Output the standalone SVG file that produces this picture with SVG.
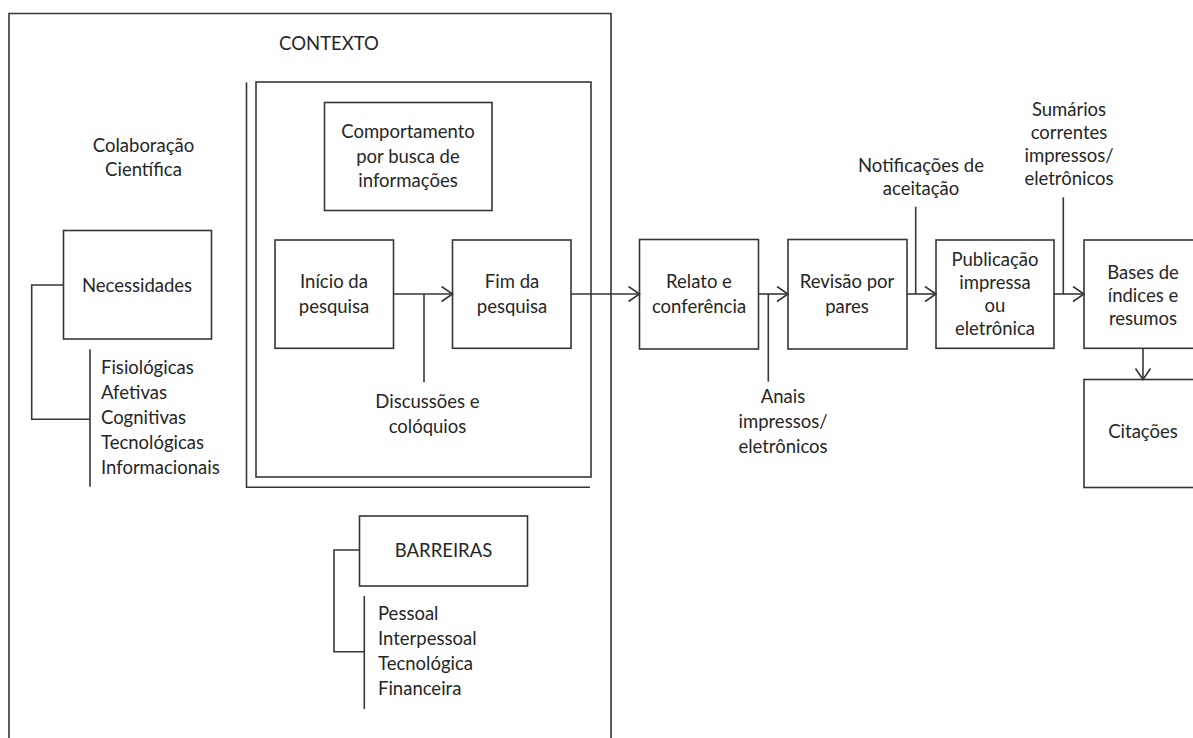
<svg xmlns="http://www.w3.org/2000/svg" width="1193" height="738" viewBox="0 0 1193 738">
  <style>
    .box { fill: #ffffff; stroke: #363636; stroke-width: 1.6; }
    .ln { fill: none; stroke: #363636; stroke-width: 1.6; }
    .arr { fill: none; stroke: #363636; stroke-width: 1.6; marker-end: url(#chev); }
    text { font-family: Lato, "Open Sans", "Liberation Sans", sans-serif; font-size: 18.5px; fill: #262626; }
    .c { text-anchor: middle; }
  </style>
  <defs>
    <marker id="chev" markerUnits="userSpaceOnUse" markerWidth="14" markerHeight="18" refX="12" refY="8" orient="auto">
      <path d="M1,0.5 L12,8 L1,15.5" fill="none" stroke="#363636" stroke-width="1.6"/>
    </marker>
  </defs>
  <rect width="1193" height="738" fill="#ffffff"/>

  <!-- context frame (open at the bottom edge) -->
  <g id="contexto">
    <path class="ln" d="M9,760 V13.5 H611 V760"/>
    <text class="c" x="329" y="50">CONTEXTO</text>
  </g>

  <g id="colaboracao">
    <text class="c" x="143.5" y="152">Colaboração</text>
    <text class="c" x="143.5" y="176">Científica</text>
  </g>

  <!-- research frame with shadow rule -->
  <g id="pesquisa-frame">
    <path class="ln" d="M246.5,82.5 V487.3 H590"/>
    <rect class="box" x="256" y="82" width="335" height="395" fill="none"/>
  </g>

  <g id="comportamento">
    <rect class="box" x="324.5" y="102.5" width="167.5" height="108"/>
    <text class="c" x="408" y="138">Comportamento</text>
    <text class="c" x="408" y="163">por busca de</text>
    <text class="c" x="408" y="187">informações</text>
  </g>

  <g id="necessidades">
    <rect class="box" x="63.5" y="230.5" width="148" height="108.5"/>
    <text class="c" x="137" y="291.5">Necessidades</text>
  </g>

  <g id="necessidades-lista">
    <path class="ln" d="M90,349.3 V486.7"/>
    <text x="101" y="374">Fisiológicas</text>
    <text x="101" y="399">Afetivas</text>
    <text x="101" y="424">Cognitivas</text>
    <text x="101" y="449">Tecnológicas</text>
    <text x="101" y="474">Informacionais</text>
  </g>

  <g id="inicio">
    <rect class="box" x="275" y="240" width="118.5" height="108.3"/>
    <text class="c" x="334" y="288">Início da</text>
    <text class="c" x="334" y="313">pesquisa</text>
  </g>

  <g id="fim">
    <rect class="box" x="452.5" y="240" width="118.5" height="108.3"/>
    <text class="c" x="512" y="288">Fim da</text>
    <text class="c" x="512" y="313">pesquisa</text>
  </g>

  <g id="discussoes">
    <text class="c" x="427.5" y="408">Discussões e</text>
    <text class="c" x="427.5" y="433">colóquios</text>
  </g>

  <g id="barreiras">
    <rect class="box" x="359.5" y="516" width="168" height="70"/>
    <text class="c" x="443.5" y="557">BARREIRAS</text>
  </g>

  <g id="barreiras-lista">
    <path class="ln" d="M364.3,596 V709"/>
    <text x="378" y="620">Pessoal</text>
    <text x="378" y="645">Interpessoal</text>
    <text x="378" y="670">Tecnológica</text>
    <text x="378" y="695">Financeira</text>
  </g>

  <g id="relato">
    <rect class="box" x="639.5" y="239.5" width="119" height="109.5"/>
    <text class="c" x="699" y="288">Relato e</text>
    <text class="c" x="699" y="313">conferência</text>
  </g>

  <g id="anais">
    <text class="c" x="783" y="403">Anais</text>
    <text class="c" x="783" y="428">impressos/</text>
    <text class="c" x="783" y="453">eletrônicos</text>
  </g>

  <g id="revisao">
    <rect class="box" x="788" y="239.5" width="119" height="109.5"/>
    <text class="c" x="847" y="288">Revisão por</text>
    <text class="c" x="847" y="313">pares</text>
  </g>

  <g id="notificacoes">
    <text class="c" x="921" y="172">Notificações de</text>
    <text class="c" x="921" y="195">aceitação</text>
  </g>

  <g id="publicacao">
    <rect class="box" x="936" y="240" width="118" height="108.3"/>
    <text class="c" x="995" y="266">Publicação</text>
    <text class="c" x="995" y="289">impressa</text>
    <text class="c" x="995" y="312">ou</text>
    <text class="c" x="995" y="335">eletrônica</text>
  </g>

  <g id="sumarios">
    <text class="c" x="1069" y="116">Sumários</text>
    <text class="c" x="1069" y="139">correntes</text>
    <text class="c" x="1069" y="162">impressos/</text>
    <text class="c" x="1069" y="185">eletrônicos</text>
  </g>

  <g id="bases">
    <rect class="box" x="1084" y="240" width="118" height="108.3"/>
    <text class="c" x="1143" y="279">Bases de</text>
    <text class="c" x="1143" y="302">índices e</text>
    <text class="c" x="1143" y="325">resumos</text>
  </g>

  <g id="citacoes">
    <rect class="box" x="1084" y="379.5" width="118" height="108"/>
    <text class="c" x="1143" y="438">Citações</text>
  </g>

  <g id="connectors">
    <!-- brackets for the lists -->
    <path class="ln" d="M63.5,285 H31.7 V419.3 H90"/>
    <path class="ln" d="M359.5,550 H334 V651.7 H364.3"/>
    <!-- main flow -->
    <path class="arr" d="M393.5,294 H452.5"/>
    <path class="arr" d="M571,294 H639.5"/>
    <path class="arr" d="M758.5,294 H788"/>
    <path class="arr" d="M907,294 H936"/>
    <path class="arr" d="M1054,294 H1084"/>
    <path class="arr" d="M1143,348.3 V379.5"/>
    <!-- side inputs -->
    <path class="ln" d="M424,294 V382.3"/>
    <path class="ln" d="M768.3,294 V381.7"/>
    <path class="ln" d="M915.7,206.7 V294"/>
    <path class="ln" d="M1063.3,197.3 V294"/>
  </g>
</svg>
